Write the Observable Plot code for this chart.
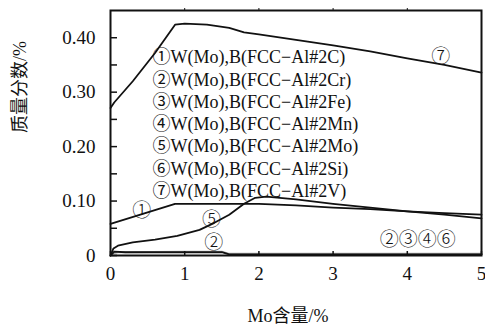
<!DOCTYPE html>
<html>
<head>
<meta charset="utf-8">
<script src="https://cdn.jsdelivr.net/npm/d3@7"></script>
<script src="https://cdn.jsdelivr.net/npm/@observablehq/plot@0.6"></script>
<style>
  html, body { margin: 0; padding: 0; background: #fff; }
</style>
</head>
<body>
<div id="chart"></div>
<script>
// ---- data ----
const mo7   = [0, 0.05, 0.3, 0.6, 0.87, 1.0, 1.3, 1.6, 1.8, 2.0, 2.5, 3.0, 3.5, 4.0, 4.5, 5.0];
const val7  = [0.271, 0.281, 0.320, 0.372, 0.424, 0.426, 0.424, 0.418, 0.410, 0.406, 0.396, 0.386, 0.375, 0.362, 0.350, 0.336];

const mo1   = [0, 0.87, 2.0, 2.5, 3.0, 3.5, 4.0, 4.5, 5.0];
const val1  = [0.058, 0.095, 0.095, 0.092, 0.088, 0.085, 0.081, 0.078, 0.075];

const mo5   = [0, 0.04, 0.1, 0.3, 0.6, 0.9, 1.2, 1.4, 1.6, 1.8, 1.95, 2.1, 2.5, 3.0, 3.5, 4.0, 4.5, 5.0];
const val5  = [0.0, 0.013, 0.018, 0.024, 0.029, 0.036, 0.047, 0.060, 0.075, 0.095, 0.106, 0.108, 0.103, 0.095, 0.088, 0.081, 0.075, 0.068];

const mo2   = [0, 0.05, 0.2, 1.0, 1.5, 1.6, 5.0];
const val2  = [0.0, 0.007, 0.006, 0.006, 0.006, 0.002, 0.002];

const mo346  = [0.03, 0.1, 1.0, 1.5, 1.6, 5.0];
const val346 = [0.004, 0.006, 0.007, 0.007, 0.003, 0.003];

const legendNums = ["①", "②", "③", "④", "⑤", "⑥", "⑦"];
const legendTexts = [
  "W(Mo),B(FCC−Al#2C)",
  "W(Mo),B(FCC−Al#2Cr)",
  "W(Mo),B(FCC−Al#2Fe)",
  "W(Mo),B(FCC−Al#2Mn)",
  "W(Mo),B(FCC−Al#2Mo)",
  "W(Mo),B(FCC−Al#2Si)",
  "W(Mo),B(FCC−Al#2V)"
];

const curveLabels = ["①", "⑤", "②", "⑦", "②③④⑥"];
const labelMo     = [0.42, 1.36, 1.39, 4.45, 4.14];
const labelVal    = [0.082, 0.066, 0.023, 0.364, 0.028];

const xTicks = [0, 1, 2, 3, 4, 5];
const yTicks = [0, 0.05, 0.10, 0.15, 0.20, 0.25, 0.30, 0.35, 0.40];

const xLabel = "Mo含量/%";
const yLabel = "质量分数/%";

// ---- build tables ----
const zip = (xs, ys) => xs.map((x, i) => ({x, y: ys[i]}));
const black = [zip(mo7, val7), zip(mo1, val1), zip(mo5, val5), zip(mo2, val2)];
const gray = zip(mo346, val346);
const labels = curveLabels.map((t, i) => ({t, x: labelMo[i], y: labelVal[i]}));
const legendRows = legendTexts.map((t, i) => legendNums[i] + t);

const serif = "'Liberation Serif', 'Times New Roman', 'Noto Sans CJK SC', serif";
const circ = "'Noto Sans CJK SC', 'Liberation Serif', serif";
const rowPx = 22.3;     // legend row spacing
const rowTop = 47;      // first legend row centre, below frame top

const legendMarks = legendRows.map((t, i) =>
  Plot.text([t], {
    frameAnchor: "top-left", textAnchor: "start", lineAnchor: "middle",
    dx: 42, dy: rowTop + i * rowPx, fontSize: 18, fontFamily: serif, fill: "#111"
  })
);

const chart = Plot.plot({
  width: 485,
  height: 331,
  marginLeft: 110,
  marginRight: 4,
  marginTop: 10,
  marginBottom: 76,
  style: {fontFamily: serif, background: "#fff", color: "#111"},
  x: {domain: [0, 5]},
  y: {domain: [0, 0.45]},
  marks: [
    Plot.line(gray, {x: "x", y: "y", stroke: "#aaa", strokeWidth: 2}),
    ...black.map(d => Plot.line(d, {x: "x", y: "y", stroke: "#111", strokeWidth: 1.8})),
    Plot.text(labels, {x: "x", y: "y", text: "t", fontSize: 19, fontFamily: circ, fill: "#111", fontWeight: 300}),
    ...legendMarks,
    Plot.axisY({
      ticks: yTicks, tickSize: -7, tickPadding: 22, fontSize: 19,
      tickFormat: d => d === 0 ? "0" : (Math.round(d * 100) % 10 === 0 ? d.toFixed(2) : ""),
      label: null, strokeWidth: 1.5
    }),
    Plot.axisX({
      ticks: xTicks, tickSize: -4, tickPadding: 15, fontSize: 19,
      tickFormat: d => String(d), label: null, strokeWidth: 1.5
    }),
    Plot.axisX({anchor: "top", ticks: xTicks.slice(1, 5), tickSize: 3, text: null, label: null}),
    Plot.frame({stroke: "#111", strokeWidth: 2}),
    Plot.text([yLabel], {frameAnchor: "left", dx: -90, rotate: -90, fontSize: 18, fontFamily: serif, fill: "#111"}),
    Plot.text([xLabel], {frameAnchor: "bottom", dx: -8, dy: 66, fontSize: 18, fontFamily: serif, fill: "#111"})
  ]
});

document.getElementById("chart").appendChild(chart);
</script>
</body>
</html>
